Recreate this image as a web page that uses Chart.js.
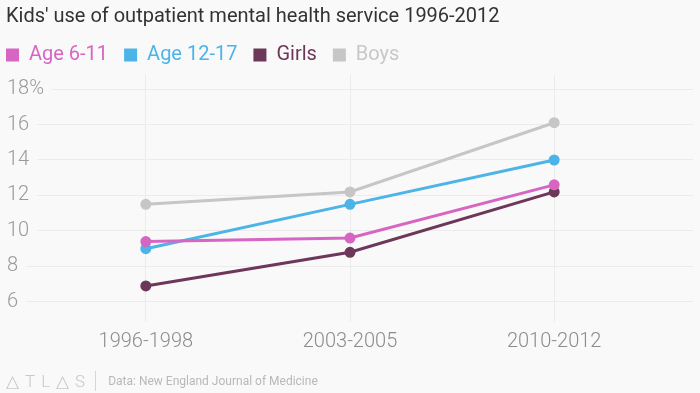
<!DOCTYPE html>
<html>
<head>
<meta charset="utf-8">
<script src="https://cdn.jsdelivr.net/npm/chart.js@4"></script>
<style>
  body { margin: 0; background: #f9f9f9; }
  .wrap { position: relative; width: 700px; height: 393px; }
  .footer { position: absolute; left: 6px; top: 370px; height: 22px; display: flex; align-items: center; font-family: Roboto, sans-serif; }
  .logo { font-size: 17px; font-weight: 300; letter-spacing: 6px; color: #c8c8c8; }
  .sep { width: 1px; height: 20px; background: #d6d6d6; margin: 0 12px 0 4px; }
  .source { font-size: 12px; color: #b8b8b8; }
</style>
</head>
<body>
<div class="wrap">
  <canvas id="chart" width="700" height="393"></canvas>
  <div class="footer"><span class="logo">&#9651;TL&#9651;S</span><span class="sep"></span><span class="source">Data: New England Journal of Medicine</span></div>
</div>
<script>
// data
const periods = ["1996-1998", "2003-2005", "2010-2012"];
const seriesNames = ["Age 6-11", "Age 12-17", "Girls", "Boys"];
const age6to11 = [9.4, 9.6, 12.6];
const age12to17 = [9.0, 11.5, 14.0];
const girls = [6.9, 8.8, 12.2];
const boys = [11.5, 12.2, 16.1];
const yTicks = [6, 8, 10, 12, 14, 16, 18];
const colors = ["#d765c2", "#4cb4e7", "#6d3759", "#c6c6c6"];

const allValues = [age6to11, age12to17, girls, boys];

const datasets = allValues.map((vals, i) => ({
    label: seriesNames[i],
    data: vals.map((v, j) => ({ x: j, y: v })),
    borderColor: colors[i],
    backgroundColor: colors[i],
    borderWidth: 3,
    pointRadius: 4,
    pointHoverRadius: 4
}));

// legend starts flush with the title
const legendShift = {
    id: "legendShift",
    afterLayout(c) {
        c.legend.left -= 16;
    }
};

const ctx = document.getElementById("chart").getContext("2d");
const chart = new Chart(ctx, {
    type: "line",
    data: { datasets: datasets },
    plugins: [legendShift],
    options: {
        responsive: false,
        animation: false,
        layout: { padding: { left: 6, right: 0, top: 5, bottom: 31 } },
        plugins: {
            title: {
                display: true,
                text: "Kids' use of outpatient mental health service 1996-2012",
                align: "start",
                color: "#333",
                font: { family: "Roboto", size: 20, weight: "normal" },
                padding: { top: 0, bottom: 0 }
            },
            legend: {
                align: "start",
                labels: {
                    boxWidth: 13,
                    boxHeight: 13,
                    padding: 16,
                    font: { family: "Roboto", size: 20, weight: "normal" },
                    generateLabels: (c) => c.data.datasets.map((ds, i) => ({
                        text: ds.label,
                        fillStyle: colors[i],
                        strokeStyle: colors[i],
                        lineWidth: 0,
                        fontColor: i === 3 ? "#c8c8c8" : colors[i],
                        datasetIndex: i
                    }))
                }
            },
            tooltip: { enabled: false }
        },
        scales: {
            x: {
                type: "linear",
                min: -0.68,
                max: 2.68,
                border: { display: false },
                grid: { color: "#ececec", drawTicks: false },
                afterBuildTicks: (s) => { s.ticks = periods.map((p, i) => ({ value: i })); },
                ticks: {
                    padding: 8,
                    color: "#8c8c8c",
                    font: { family: "Roboto", size: 20, weight: "300" },
                    callback: (v) => periods[v] ?? ""
                }
            },
            y: {
                min: 4.87,
                max: 18.79,
                border: { display: false },
                grid: { color: "#ececec", drawTicks: false },
                afterBuildTicks: (s) => { s.ticks = yTicks.map((v) => ({ value: v })); },
                ticks: {
                    mirror: true,
                    padding: 0,
                    showLabelBackdrop: true,
                    backdropColor: "#f9f9f9",
                    backdropPadding: { left: 0, right: 8, top: 0, bottom: 0 },
                    color: "#999",
                    font: { family: "Roboto", size: 20, weight: "300" },
                    callback: (v) => v === 18 ? v + "%" : v
                }
            }
        }
    }
});
</script>
</body>
</html>
